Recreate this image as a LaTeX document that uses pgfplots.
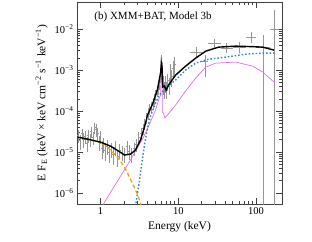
\documentclass[border=0pt]{standalone}
\usepackage{fontspec}
\setmainfont{Liberation Serif}
\usepackage{pgfplots}
\usepackage{pgfplotstable}
\pgfplotsset{compat=1.18}
\definecolor{mblue}{RGB}{50,128,200}
\definecolor{morange}{RGB}{245,160,20}
\definecolor{mpink}{RGB}{225,110,225}
\definecolor{mgray}{RGB}{150,150,150}

\pgfplotstableread{
E F
0.506 2.32e-5
0.680 2.07e-5
1.0 1.75e-5
1.345 1.40e-5
1.705 1.06e-5
2.037 8.45e-6
2.432 8.93e-6
2.820 1.12e-5
3.27 1.96e-5
3.68 4.07e-5
4.03 7.98e-5
4.67 1.48e-4
5.42 3.44e-4
5.75 6.38e-4
5.95 9.0e-4
6.05 1.48e-3
6.2 1.12e-3
6.3 3.85e-4
6.66 4.07e-4
6.97 3.25e-4
7.50 4.31e-4
9.23 7.55e-4
12.4 1.25e-3
16.7 1.96e-3
22.5 2.90e-3
33.0 3.64e-3
54.6 3.85e-3
90.4 3.74e-3
121.7 3.64e-3
170 3.08e-3
}\total

\pgfplotstableread{
E F
2.78 3.85e-7
2.99 1.0e-6
3.18 2.07e-6
3.37 4.82e-6
3.68 1.48e-5
4.03 3.85e-5
4.40 7.55e-5
4.81 1.18e-4
5.58 2.32e-4
6.87 3.64e-4
9.23 5.70e-4
12.4 1.0e-3
16.7 1.48e-3
24.5 1.85e-3
40.6 2.07e-3
73.5 2.45e-3
121.7 2.60e-3
170 2.60e-3
}\blue

\pgfplotstableread{
E F
0.506 2.32e-5
0.680 2.07e-5
1.0 1.72e-5
1.16 1.48e-5
1.514 8.93e-6
1.809 6.03e-6
2.037 4.31e-6
2.29 2.75e-6
2.57 1.75e-6
2.90 1.06e-6
3.18 6.75e-7
3.47 3.85e-7
}\orange

\pgfplotstableread{
E F
1.015 4.31e-7
2.43 6.38e-6
3.58 2.32e-5
4.27 4.82e-5
5.10 1.06e-4
5.75 2.19e-4
5.95 2.45e-4
6.02 1.32e-3
6.17 1.25e-3
6.24 9.46e-5
6.47 8.93e-5
6.72 6.75e-5
9.23 1.40e-4
12.4 3.08e-4
16.7 6.38e-4
22.5 1.18e-3
30.2 1.48e-3
54.6 1.57e-3
90.4 1.25e-3
121.7 8.93e-4
170 5.09e-4
}\pink

\pgfplotstableread{
E F xr r
0.52 2.51e-5 0.03 0.35
0.55 1.905e-5 0.03 0.40
0.58 2.82e-5 0.03 0.30
0.61 2.09e-5 0.03 0.40
0.64 2.40e-5 0.03 0.35
0.67 1.66e-5 0.03 0.40
0.70 2.63e-5 0.03 0.35
0.73 2.00e-5 0.03 0.35
0.76 3.16e-5 0.03 0.30
0.80 2.24e-5 0.03 0.35
0.84 3.98e-5 0.03 0.30
0.88 3.55e-5 0.03 0.35
0.92 2.82e-5 0.03 0.35
0.96 1.78e-5 0.03 0.40
1.00 2.40e-5 0.03 0.35
1.05 1.26e-5 0.03 0.45
1.10 1.58e-5 0.03 0.40
1.16 1.12e-5 0.03 0.45
1.22 1.41e-5 0.03 0.40
1.30 1.00e-5 0.03 0.45
1.38 1.20e-5 0.03 0.40
1.47 8.91e-6 0.03 0.45
1.56 1.32e-5 0.03 0.40
1.66 7.94e-6 0.03 0.45
1.77 1.12e-5 0.03 0.40
1.90 1.00e-5 0.03 0.40
2.05 8.91e-6 0.03 0.40
2.20 1.41e-5 0.03 0.35
2.35 1.05e-5 0.03 0.40
2.50 8.91e-6 0.03 0.40
2.70 1.26e-5 0.03 0.35
2.90 1.58e-5 0.03 0.35
3.10 2.24e-5 0.02 0.35
3.30 2.82e-5 0.02 0.35
3.50 3.80e-5 0.02 0.30
3.70 5.01e-5 0.02 0.30
3.90 7.08e-5 0.02 0.30
4.10 8.91e-5 0.02 0.30
4.30 1.12e-4 0.02 0.30
4.50 1.26e-4 0.02 0.30
4.70 1.58e-4 0.02 0.30
4.90 2.00e-4 0.02 0.30
5.10 2.51e-4 0.02 0.30
5.30 3.16e-4 0.02 0.30
5.50 3.80e-4 0.02 0.35
5.70 5.01e-4 0.02 0.35
5.90 7.94e-4 0.02 0.40
6.05 1.58e-3 0.02 0.45
6.20 1.12e-3 0.02 0.40
6.35 5.01e-4 0.02 0.45
6.50 4.47e-4 0.02 0.45
6.70 3.55e-4 0.02 0.45
6.90 5.01e-4 0.02 0.45
7.10 3.55e-4 0.02 0.45
7.30 5.62e-4 0.02 0.45
7.60 4.47e-4 0.02 0.45
7.90 1.00e-3 0.02 0.45
8.20 7.08e-4 0.02 0.45
8.60 1.12e-3 0.02 0.45
9.00 1.41e-3 0.02 0.45
}\xmm

\pgfplotstableread{
E F xm xp ym yp
17 2.79e-3 3 3 0.68e-3 0.91e-3
22 1.66e-3 2 2 0.985e-3 0.66e-3
29 4.48e-3 5 6 1.10e-3 1.13e-3
42 3.38e-3 7 8 0.78e-3 1.18e-3
61 3.70e-3 11 14 1.15e-3 1.20e-3
87 6.49e-3 12 13 2.01e-3 2.10e-3
122 3.64e-3 22 28 3.6395e-3 3.50e-3
171 9.84e-3 21 24 9.8395e-3 1.92e-2
}\bat

\begin{document}
\begin{tikzpicture}
\useasboundingbox (-77pt,-37pt) rectangle (235pt,204pt);
\begin{axis}[
  at={(0pt,0pt)}, anchor=south west,
  scale only axis, width=205pt, height=202pt,
  xmode=log, ymode=log,
  xmin=0.5, xmax=215, ymin=5.4e-7, ymax=0.046,
  xtick={1,10,100}, xticklabels={1,10,100},
  ytick={1e-6,1e-5,1e-4,1e-3,1e-2},
  yticklabels={10\textsuperscript{−6},10\textsuperscript{−5},10\textsuperscript{−4},10\textsuperscript{−3},10\textsuperscript{−2}},
  tick pos=both, tick align=inside,
  major tick length=6pt, minor tick length=3pt,
  axis line style={black!75, line width=0.6pt},
  tick style={black!75, line width=0.5pt},
  tick label style={font=\fontsize{10.5}{12}\selectfont},
  label style={font=\fontsize{11.5}{13}\selectfont},
  xlabel={Energy (keV)},
  ylabel={E F\textsubscript{E} (keV × keV cm\textsuperscript{−2} s\textsuperscript{−1} keV\textsuperscript{−1})},
]
\addplot[draw=none, mark=none, forget plot,
  error bars/.cd, x dir=both, x explicit relative, y dir=both, y explicit relative,
  error mark=none, error bar style={draw=mgray, line width=0.5pt, solid}]
  table[x=E, y=F, x error=xr, y error=r] {\xmm};
\addplot[draw=none, mark=none, forget plot,
  error bars/.cd, x dir=both, x explicit, y dir=both, y explicit,
  error mark=none, error bar style={draw=mgray, line width=0.6pt, solid}]
  table[x=E, y=F, x error plus=xp, x error minus=xm, y error plus=yp, y error minus=ym] {\bat};
\addplot[mpink, line width=0.7pt] table[x=E, y=F] {\pink};
\addplot[morange, dashed, line width=1.3pt, dash pattern=on 4pt off 2.5pt] table[x=E, y=F] {\orange};
\addplot[mblue, line width=1.4pt, dash pattern=on 1.5pt off 2pt] table[x=E, y=F] {\blue};
\addplot[black, line width=1.4pt] table[x=E, y=F] {\total};
\node[anchor=west, font=\fontsize{11}{13}\selectfont] at (rel axis cs:0.068,0.925) {(b) XMM+BAT, Model 3b};
\end{axis}
\end{tikzpicture}
\end{document}
